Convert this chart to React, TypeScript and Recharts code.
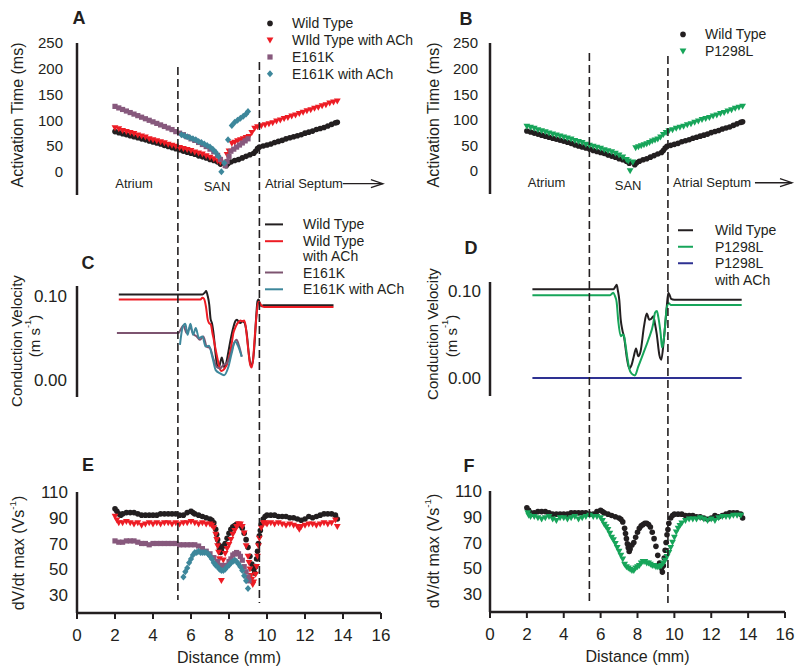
import React from 'react';
import {
  ScatterChart, Scatter, LineChart, Line, ComposedChart, XAxis, YAxis,
  ReferenceLine, ReferenceDot, Legend
} from 'recharts';

type Pt = [number, number];

const FONT = '"Liberation Sans", Arial, sans-serif';
const INK = '#231f20';
const RED = '#ed1c24';
const MAUVE = '#87597d';
const MAUVE_LINE = '#7d5470';
const TEAL = '#3d879b';
const GREEN = '#17a55a';
const NAVY = '#2e3192';

// axis ticks
const distanceTicks = [0, 2, 4, 6, 8, 10, 12, 14, 16];
const activationTicks = [0, 50, 100, 150, 200, 250];
const velocityTicks = [0, 0.1];
const dvdtTicks = [30, 50, 70, 90, 110];

// SAN region borders (mm)
const regionLeft = [5.31, 9.6];
const regionRight = [5.39, 9.65];

// ---- activation time (ms) vs distance (mm)
const atWildType: Pt[] = [
  [2.0, 78], [2.2, 76], [2.4, 74], [2.6, 72], [2.8, 70], [3.0, 68], [3.2, 66], [3.4, 64], [3.6, 62], [3.8, 60],
  [4.0, 58], [4.2, 56], [4.4, 54], [4.6, 51], [4.8, 49], [5.0, 47], [5.2, 45], [5.4, 43], [5.6, 40], [5.8, 38],
  [6.0, 36], [6.2, 34], [6.4, 31], [6.6, 29], [6.8, 27], [7.0, 24], [7.2, 22], [7.4, 19], [7.55, 15],
  [7.85, 12], [7.95, 16], [8.1, 19], [8.3, 22], [8.5, 24], [8.7, 27], [8.9, 30], [9.1, 33], [9.3, 36], [9.4, 40],
  [9.5, 45], [9.6, 48], [9.8, 50], [10.0, 52], [10.2, 54], [10.4, 57], [10.6, 59], [10.8, 61], [11.0, 64], [11.2, 66],
  [11.4, 68], [11.6, 70], [11.8, 72], [12.0, 75], [12.2, 77], [12.4, 79], [12.6, 82], [12.8, 84], [13.0, 86],
  [13.2, 89], [13.4, 92], [13.6, 95], [13.7, 96],
];
const atWildTypeACh: Pt[] = [
  [2.0, 85], [2.2, 83], [2.4, 80], [2.6, 78], [2.8, 76], [3.0, 74], [3.2, 71], [3.4, 69], [3.6, 67], [3.8, 64],
  [4.0, 62], [4.2, 60], [4.4, 58], [4.6, 56], [4.8, 53], [5.0, 51], [5.2, 49], [5.4, 47], [5.6, 45], [5.8, 43],
  [6.0, 41], [6.2, 38], [6.4, 36], [6.6, 34], [6.8, 31], [7.0, 28], [7.2, 25], [7.4, 21], [7.55, 18],
  [7.9, 33], [8.0, 40], [8.15, 55], [8.3, 57], [8.45, 60], [8.6, 62], [8.75, 64], [8.9, 66], [9.05, 68], [9.2, 76],
  [9.35, 84], [9.5, 87], [9.7, 89], [9.9, 91], [10.1, 93], [10.3, 95], [10.5, 98], [10.7, 100], [10.9, 103],
  [11.1, 105], [11.3, 108], [11.5, 110], [11.7, 113], [11.9, 115], [12.1, 118], [12.3, 120], [12.5, 123],
  [12.7, 125], [12.9, 128], [13.1, 130], [13.3, 133], [13.5, 135], [13.7, 137],
];
const atE161K: Pt[] = [
  [2.0, 127], [2.2, 124], [2.4, 121], [2.6, 118], [2.8, 115], [3.0, 112], [3.2, 109], [3.4, 106], [3.6, 103],
  [3.8, 100], [4.0, 97], [4.2, 94], [4.4, 91], [4.6, 88], [4.8, 85], [5.0, 82], [5.2, 78], [5.4, 75], [5.6, 72],
  [5.8, 68], [6.0, 64], [6.2, 61], [6.4, 57], [6.6, 53], [6.8, 49], [7.0, 44], [7.2, 39], [7.4, 32], [7.55, 24],
  [7.8, 12], [7.9, 20], [8.0, 30], [8.1, 40], [8.25, 44], [8.4, 48], [8.55, 52], [8.7, 56], [8.85, 60], [9.0, 64],
];
const atE161KACh: Pt[] = [
  [5.5, 72], [5.65, 70], [5.8, 68], [5.95, 66], [6.1, 64], [6.25, 62], [6.4, 59], [6.55, 57], [6.7, 54],
  [6.85, 51], [7.0, 48], [7.15, 44], [7.3, 38], [7.45, 30], [7.6, 0], [7.75, 17], [7.95, 62], [8.15, 90],
  [8.3, 96], [8.45, 100], [8.6, 104], [8.75, 108], [8.9, 112], [9.0, 117],
];
const atP1298L: Pt[] = [
  [2.0, 87], [2.2, 85], [2.4, 83], [2.6, 80], [2.8, 78], [3.0, 76], [3.2, 74], [3.4, 72], [3.6, 70], [3.8, 68],
  [4.0, 66], [4.2, 64], [4.4, 62], [4.6, 59], [4.8, 57], [5.0, 55], [5.2, 52], [5.4, 50], [5.6, 48], [5.8, 46],
  [6.0, 44], [6.2, 41], [6.4, 39], [6.6, 37], [6.8, 34], [7.0, 31], [7.2, 27], [7.4, 22], [7.5, 19], [7.6, 0],
  [7.75, 17], [7.9, 45], [8.05, 47], [8.2, 49], [8.35, 51], [8.5, 53], [8.65, 55], [8.8, 58], [8.95, 60],
  [9.1, 62], [9.25, 66], [9.4, 71], [9.55, 75], [9.7, 78], [9.9, 80], [10.1, 83], [10.3, 85], [10.5, 87],
  [10.7, 90], [10.9, 92], [11.1, 95], [11.3, 97], [11.5, 100], [11.7, 102], [11.9, 104], [12.1, 107],
  [12.3, 109], [12.5, 112], [12.7, 114], [12.9, 117], [13.1, 119], [13.3, 122], [13.5, 124], [13.7, 126],
];

// ---- conduction velocity (m/s)
const cvWildTypeC: Pt[] = [
  [2.2, 0.102], [6.6, 0.102], [6.72, 0.104], [6.8, 0.106], [6.88, 0.1], [6.96, 0.09], [7.03, 0.073], [7.1, 0.068],
  [7.2, 0.053], [7.3, 0.03], [7.38, 0.017], [7.47, 0.015], [7.55, 0.022], [7.62, 0.027], [7.7, 0.02], [7.76, 0.015],
  [7.85, 0.02], [7.97, 0.034], [8.1, 0.05], [8.23, 0.063], [8.33, 0.07], [8.42, 0.072], [8.52, 0.069], [8.6, 0.068],
  [8.7, 0.07], [8.8, 0.069], [8.93, 0.056], [9.05, 0.03], [9.15, 0.017], [9.25, 0.022], [9.35, 0.045], [9.43, 0.075],
  [9.5, 0.094], [9.56, 0.096], [9.62, 0.091], [9.7, 0.088], [9.8, 0.089], [13.5, 0.089],
];
const cvWildTypeAChC: Pt[] = [
  [2.2, 0.096], [6.5, 0.096], [6.6, 0.098], [6.68, 0.097], [6.79, 0.087], [6.88, 0.072], [6.95, 0.068], [7.05, 0.066],
  [7.12, 0.057], [7.2, 0.048], [7.3, 0.036], [7.4, 0.025], [7.5, 0.015], [7.6, 0.011], [7.7, 0.012], [7.8, 0.015],
  [7.88, 0.018], [7.97, 0.025], [8.05, 0.032], [8.15, 0.045], [8.23, 0.056], [8.32, 0.062], [8.4, 0.066], [8.5, 0.069],
  [8.6, 0.071], [8.7, 0.07], [8.8, 0.071], [8.88, 0.064], [8.95, 0.05], [9.02, 0.035], [9.1, 0.02], [9.19, 0.015],
  [9.27, 0.025], [9.35, 0.05], [9.42, 0.07], [9.5, 0.088], [9.55, 0.093], [9.62, 0.092], [9.7, 0.089], [9.85, 0.087],
  [13.5, 0.087],
];
const cvE161K: Pt[] = [
  [2.1, 0.056], [5.33, 0.056], [5.45, 0.06], [5.6, 0.065], [5.77, 0.056], [5.95, 0.063], [6.12, 0.055], [6.3, 0.052],
  [6.47, 0.048], [6.65, 0.052], [6.82, 0.04], [7.0, 0.038], [7.17, 0.026], [7.35, 0.016], [7.53, 0.014], [7.7, 0.018],
  [7.88, 0.02], [8.05, 0.028], [8.23, 0.042], [8.4, 0.048], [8.54, 0.04], [8.67, 0.028],
];
const cvE161KACh: Pt[] = [
  [5.42, 0.042], [5.56, 0.063], [5.7, 0.067], [5.82, 0.054], [5.97, 0.067], [6.11, 0.054], [6.25, 0.062], [6.42, 0.05],
  [6.6, 0.052], [6.77, 0.04], [6.95, 0.041], [7.12, 0.028], [7.3, 0.012], [7.53, 0.008], [7.74, 0.006], [7.97, 0.016],
  [8.14, 0.032], [8.32, 0.046], [8.49, 0.04], [8.67, 0.028],
];
const cvWildTypeD: Pt[] = [
  [2.3, 0.102], [6.7, 0.102], [6.8, 0.105], [6.87, 0.107], [6.94, 0.1], [7.01, 0.09], [7.09, 0.067], [7.18, 0.055],
  [7.28, 0.046], [7.41, 0.025], [7.55, 0.011], [7.68, 0.015], [7.8, 0.025], [7.92, 0.034], [8.04, 0.025], [8.17, 0.031],
  [8.35, 0.059], [8.5, 0.074], [8.64, 0.067], [8.75, 0.068], [8.86, 0.071], [8.95, 0.062], [9.04, 0.051], [9.19, 0.026],
  [9.29, 0.021], [9.44, 0.047], [9.58, 0.08], [9.67, 0.098], [9.75, 0.095], [9.82, 0.091], [10.0, 0.09], [13.65, 0.09],
];
const cvP1298L: Pt[] = [
  [2.3, 0.095], [6.5, 0.095], [6.62, 0.097], [6.69, 0.098], [6.78, 0.094], [6.87, 0.087], [6.96, 0.065], [7.09, 0.048],
  [7.2, 0.05], [7.27, 0.048], [7.35, 0.038], [7.45, 0.023], [7.55, 0.011], [7.68, 0.005], [7.86, 0.003], [8.04, 0.013],
  [8.31, 0.028], [8.59, 0.044], [8.86, 0.063], [8.95, 0.075], [9.05, 0.077], [9.13, 0.07], [9.26, 0.05], [9.33, 0.035],
  [9.4, 0.04], [9.49, 0.058], [9.58, 0.08], [9.7, 0.086], [9.8, 0.084], [13.65, 0.084],
];
const cvP1298LACh: Pt[] = [[2.3, 0], [13.65, 0]];

// ---- dV/dt max (V/s)
const dvWildType: Pt[] = [
  [2.0, 97], [2.1, 95], [2.2, 93], [2.3, 92], [2.4, 93], [2.6, 94], [2.8, 94], [3.0, 94], [3.2, 93], [3.4, 92],
  [3.6, 92], [3.8, 92], [4.0, 92], [4.2, 92], [4.4, 93], [4.6, 93], [4.8, 93], [5.0, 93], [5.2, 93], [5.4, 92],
  [5.6, 92], [5.8, 94], [6.0, 95], [6.1, 94], [6.2, 93], [6.4, 92], [6.6, 91], [6.8, 90], [7.0, 89], [7.1, 88],
  [7.2, 86], [7.3, 81], [7.35, 77], [7.4, 73], [7.45, 69], [7.5, 66], [7.55, 63], [7.6, 65], [7.7, 68], [7.8, 70],
  [7.9, 74], [8.0, 78], [8.1, 81], [8.2, 83], [8.3, 84], [8.4, 85], [8.5, 85], [8.6, 84], [8.7, 82], [8.8, 78],
  [8.9, 73], [9.0, 67], [9.1, 60], [9.2, 54], [9.3, 50], [9.35, 47], [9.4, 52], [9.45, 58], [9.5, 64], [9.55, 70],
  [9.6, 76], [9.65, 80], [9.7, 85], [9.8, 89], [9.9, 91], [10.0, 92], [10.2, 92], [10.4, 92], [10.6, 91], [10.8, 91],
  [11.0, 91], [11.2, 90], [11.4, 90], [11.6, 89], [11.8, 88], [12.0, 89], [12.2, 91], [12.4, 90], [12.6, 91],
  [12.8, 92], [13.0, 93], [13.2, 93], [13.4, 93], [13.6, 92], [13.7, 89],
];
const dvWildTypeACh: Pt[] = [
  [2.0, 91], [2.1, 88], [2.2, 86], [2.4, 86], [2.6, 87], [2.8, 86], [3.0, 85], [3.2, 86], [3.4, 84], [3.6, 85],
  [3.8, 86], [4.0, 85], [4.2, 86], [4.4, 85], [4.6, 86], [4.8, 86], [5.0, 85], [5.2, 86], [5.4, 85], [5.6, 86],
  [5.8, 86], [6.0, 87], [6.2, 86], [6.4, 85], [6.6, 86], [6.8, 85], [7.0, 85], [7.1, 84], [7.2, 82], [7.3, 77],
  [7.35, 73], [7.4, 68], [7.45, 63], [7.5, 58], [7.55, 52], [7.6, 41], [7.7, 57], [7.8, 62], [7.9, 66], [8.0, 69],
  [8.1, 73], [8.2, 77], [8.3, 80], [8.4, 83], [8.5, 85], [8.6, 85], [8.7, 83], [8.8, 78], [8.9, 68], [9.0, 60],
  [9.05, 55], [9.1, 50], [9.15, 45], [9.2, 42], [9.25, 38], [9.3, 40], [9.4, 46], [9.45, 52], [9.5, 60], [9.55, 68],
  [9.6, 74], [9.7, 82], [9.8, 86], [9.9, 86], [10.0, 85], [10.2, 86], [10.4, 85], [10.6, 86], [10.8, 85], [11.0, 84],
  [11.2, 85], [11.4, 84], [11.6, 83], [11.7, 81], [11.8, 83], [12.0, 84], [12.2, 85], [12.4, 85], [12.6, 84],
  [12.8, 85], [13.0, 86], [13.2, 85], [13.4, 86], [13.6, 88], [13.7, 83],
];
const dvE161K: Pt[] = [
  [2.0, 72], [2.2, 71], [2.4, 71], [2.6, 72], [2.8, 72], [3.0, 72], [3.2, 71], [3.4, 70], [3.6, 70], [3.8, 69],
  [4.0, 70], [4.2, 70], [4.4, 70], [4.6, 70], [4.8, 70], [5.0, 70], [5.2, 70], [5.4, 69], [5.6, 69], [5.8, 69],
  [6.0, 69], [6.2, 69], [6.4, 68], [6.6, 66], [6.8, 64], [7.0, 62], [7.2, 59], [7.4, 56], [7.6, 53], [7.8, 53],
  [8.0, 56], [8.1, 58], [8.2, 61], [8.3, 62], [8.4, 63], [8.5, 62], [8.6, 60], [8.7, 57], [8.8, 52], [8.9, 48],
  [9.0, 44], [9.05, 41],
];
const dvE161KACh: Pt[] = [
  [5.6, 44], [5.7, 48], [5.8, 51], [5.9, 55], [6.0, 58], [6.1, 61], [6.2, 63], [6.3, 63], [6.4, 64], [6.5, 63],
  [6.6, 63], [6.7, 63], [6.8, 63], [6.9, 62], [7.0, 60], [7.1, 58], [7.2, 55], [7.3, 53], [7.4, 52], [7.5, 50],
  [7.6, 49], [7.7, 49], [7.8, 50], [7.9, 52], [8.0, 53], [8.1, 55], [8.2, 56], [8.3, 57], [8.4, 56], [8.5, 54],
  [8.6, 52], [8.7, 49], [8.8, 45], [8.9, 41], [9.0, 35],
];
const dvP1298L: Pt[] = [
  [2.05, 93], [2.1, 91], [2.2, 90], [2.4, 90], [2.6, 89], [2.8, 88], [3.0, 89], [3.2, 90], [3.4, 88], [3.6, 87],
  [3.8, 89], [4.0, 89], [4.2, 88], [4.4, 89], [4.6, 90], [4.8, 88], [5.0, 89], [5.2, 90], [5.4, 91], [5.6, 90],
  [5.8, 90], [6.0, 89], [6.1, 87], [6.2, 84], [6.3, 82], [6.4, 80], [6.5, 77], [6.6, 74], [6.7, 72], [6.8, 69],
  [6.9, 66], [7.0, 63], [7.1, 60], [7.2, 57], [7.3, 53], [7.4, 51], [7.5, 50], [7.6, 49], [7.7, 48], [7.8, 48],
  [7.9, 50], [8.0, 51], [8.1, 52], [8.2, 54], [8.3, 55], [8.4, 55], [8.5, 54], [8.6, 54], [8.7, 53], [8.8, 52],
  [8.9, 52], [9.0, 51], [9.1, 51], [9.2, 51], [9.3, 52], [9.4, 54], [9.5, 56], [9.6, 59], [9.7, 62], [9.8, 66],
  [9.9, 70], [10.0, 74], [10.1, 78], [10.2, 81], [10.3, 83], [10.4, 85], [10.6, 87], [10.8, 88], [11.0, 88],
  [11.2, 88], [11.4, 89], [11.6, 88], [11.8, 87], [12.0, 88], [12.2, 87], [12.4, 89], [12.6, 90], [12.8, 90],
  [13.0, 90], [13.2, 91], [13.4, 91], [13.6, 91],
];

const pts = (a: Pt[]) => a.map(([x, y]) => ({ x, y }));

type Shape = 'circle' | 'tri' | 'square' | 'diamond';

const mark = (shape: Shape, cx: number, cy: number, color: string) => {
  switch (shape) {
    case 'circle':
      return <circle cx={cx} cy={cy} r={2.8} fill={color} />;
    case 'tri':
      return <path d={`M${cx - 3.4},${cy - 2.7}L${cx + 3.4},${cy - 2.7}L${cx},${cy + 3.3}Z`} fill={color} />;
    case 'square':
      return <rect x={cx - 2.6} y={cy - 2.6} width={5.2} height={5.2} fill={color} />;
    default:
      return <path d={`M${cx},${cy - 3.5}L${cx + 3.1},${cy}L${cx},${cy + 3.5}L${cx - 3.1},${cy}Z`} fill={color} />;
  }
};
const shapeOf = (shape: Shape, color: string) => (p: any) => mark(shape, p.cx, p.cy, color);

const legendA = [
  { label: 'Wild Type', color: INK, shape: 'circle' as Shape },
  { label: 'WIld Type with ACh', color: RED, shape: 'tri' as Shape },
  { label: 'E161K', color: MAUVE, shape: 'square' as Shape },
  { label: 'E161K with ACh', color: TEAL, shape: 'diamond' as Shape },
];
const legendB = [
  { label: 'Wild Type', color: INK, shape: 'circle' as Shape },
  { label: 'P1298L', color: GREEN, shape: 'tri' as Shape },
];
const legendC = [
  { lines: ['Wild Type'], color: INK },
  { lines: ['Wild Type', 'with ACh'], color: RED },
  { lines: ['E161K'], color: MAUVE_LINE },
  { lines: ['E161K with ACh'], color: TEAL },
];
const legendD = [
  { lines: ['Wild Type'], color: INK },
  { lines: ['P1298L'], color: GREEN },
  { lines: ['P1298L', 'with ACh'], color: NAVY },
];

const ScatterKey = ({ items, pitch }: { items: typeof legendA; pitch: number }) => (
  <svg width={170} height={items.length * pitch} style={{ overflow: 'visible', display: 'block' }}>
    {items.map((it, i) => {
      const cy = pitch * i + pitch / 2;
      return (
        <g key={it.label}>
          {mark(it.shape, 6, cy, it.color)}
          <text x={28} y={cy} dominantBaseline="central" fontSize={14} fill={INK} fontFamily={FONT}>{it.label}</text>
        </g>
      );
    })}
  </svg>
);

const LineKey = ({ items, pitch, inner, len, textX }: { items: typeof legendC; pitch: number; inner: number; len: number; textX: number }) => {
  let y = pitch / 2;
  const rows = items.map((it) => {
    const row = { ...it, y };
    y += pitch + (it.lines.length - 1) * inner;
    return row;
  });
  return (
    <svg width={150} height={y} style={{ overflow: 'visible', display: 'block' }}>
      {rows.map((r) => (
        <g key={r.lines.join(' ') + r.color}>
          <line x1={0} x2={len} y1={r.y} y2={r.y} stroke={r.color} strokeWidth={2} />
          {r.lines.map((t, k) => (
            <text key={t} x={textX} y={r.y + k * inner} dominantBaseline="central" fontSize={14} fill={INK} fontFamily={FONT}>{t}</text>
          ))}
        </g>
      ))}
    </svg>
  );
};

type TitleLine = { x: number; y: number; text: string; sup?: string; tail?: string };
const AxisTitle = ({ lines, size = 16 }: { lines: TitleLine[]; size?: number }) => (
  <g>
    {lines.map((l, i) => (
      <text key={i} x={l.x} y={l.y} transform={`rotate(-90 ${l.x} ${l.y})`} textAnchor="middle"
        dominantBaseline="central" fontSize={size} fill={INK} fontFamily={FONT}>
        {l.text}
        {l.sup && <tspan dy={-6} fontSize={size * 0.62}>{l.sup}</tspan>}
        {l.tail && <tspan dy={l.sup ? 6 : 0}>{l.tail}</tspan>}
      </text>
    ))}
  </g>
);

const ArrowShape = (p: any) => (
  <g>
    <line x1={p.x1} y1={p.y1} x2={p.x2} y2={p.y2} stroke={INK} strokeWidth={1.3} />
    <path d={`M${p.x2 - 12},${p.y2 - 4}L${p.x2},${p.y2}L${p.x2 - 12},${p.y2 + 4}`} fill="none" stroke={INK} strokeWidth={1.3} />
  </g>
);

const tickStyle = (size: number) => ({ fill: INK, fontSize: size, fontFamily: FONT });
const axisLine = { stroke: INK, strokeWidth: 2.5 };
const noteLabel = (value: string, position: any) => ({ value, position, offset: 0, fill: INK, fontSize: 13, fontFamily: FONT });

const ActivationPanel = ({ series, legend, legendPos, titleX, margin, axisW, tickGap, notes }: any) => (
  <ScatterChart width={400} height={200} margin={margin}>
    <XAxis type="number" dataKey="x" domain={[0, 16]} hide />
    <YAxis type="number" dataKey="y" domain={[-45, 250]} ticks={activationTicks} width={axisW}
      axisLine={axisLine} tickLine={false} tickSize={0} tickMargin={tickGap} tick={tickStyle(15)}
      label={() => <AxisTitle lines={[{ x: titleX, y: 115, text: 'Activation Time (ms)' }]} />} />
    {series.map((s: any) => (
      <Scatter key={s.name} name={s.name} data={pts(s.data)} shape={shapeOf(s.shape, s.color)} isAnimationActive={false} />
    ))}
    <ReferenceDot x={notes[0]} y={-23} r={0} stroke="none" fill="none" label={noteLabel('Atrium', 'center')} />
    <ReferenceDot x={notes[1]} y={-29} r={0} stroke="none" fill="none" label={noteLabel('SAN', 'center')} />
    <ReferenceDot x={notes[2]} y={-23} r={0} stroke="none" fill="none" label={noteLabel('Atrial Septum', 'right')} />
    <ReferenceLine segment={[{ x: notes[3], y: -23 }, { x: notes[4], y: -23 }]} ifOverflow="visible" shape={ArrowShape} />
    <Legend layout="vertical" align="center" verticalAlign="middle"
      wrapperStyle={{ left: legendPos[0], top: legendPos[1], width: 'auto', height: 'auto' }}
      content={() => <ScatterKey items={legend} pitch={16.8} />} />
  </ScatterChart>
);

const VelocityPanel = ({ series, legend, legendPos, legendGeom, titles, margin, axisW, tickGap, domain }: any) => (
  <LineChart width={400} height={220} margin={margin}>
    <XAxis type="number" dataKey="x" domain={[0, 16]} hide />
    <YAxis type="number" dataKey="y" domain={domain} ticks={velocityTicks} width={axisW}
      axisLine={axisLine} tickLine={false} tickSize={0} tickMargin={tickGap} tick={tickStyle(17)}
      tickFormatter={(v: number) => v.toFixed(2)}
      label={() => <AxisTitle size={15} lines={titles} />} />
    {series.map((s: any) => (
      <Line key={s.name} name={s.name} data={pts(s.data)} dataKey="y" type="monotone" stroke={s.color}
        strokeWidth={2} dot={false} isAnimationActive={false} />
    ))}
    <Legend layout="vertical" align="center" verticalAlign="middle"
      wrapperStyle={{ left: legendPos[0], top: legendPos[1], width: 'auto', height: 'auto' }}
      content={() => <LineKey items={legend} {...legendGeom} />} />
  </LineChart>
);

const DvdtPanel = ({ series, titleX, titleY, margin, axisW, tickGap }: any) => (
  <ScatterChart width={400} height={251} margin={margin}>
    <XAxis type="number" dataKey="x" domain={[0, 16]} ticks={distanceTicks} height={50}
      axisLine={axisLine} tickLine={{ stroke: INK, strokeWidth: 2 }} tickSize={6} tickMargin={10} tick={tickStyle(17)}
      label={{ value: 'Distance (mm)', position: 'insideBottom', offset: 0, fill: INK, fontSize: 16, fontFamily: FONT }} />
    <YAxis type="number" dataKey="y" domain={[16, 110]} ticks={dvdtTicks} width={axisW}
      axisLine={axisLine} tickLine={false} tickSize={0} tickMargin={tickGap} tick={tickStyle(17)}
      label={() => <AxisTitle lines={[{ x: titleX, y: titleY, text: 'dV/dt max (Vs', sup: '-1', tail: ')' }]} />} />
    {series.map((s: any) => (
      <Scatter key={s.name} name={s.name} data={pts(s.data)} shape={shapeOf(s.shape, s.color)} isAnimationActive={false} />
    ))}
  </ScatterChart>
);

// full-height layer for the dashed SAN borders; the y axis is in page pixels
const RegionOverlay = ({ lines, spans, left, right }: any) => {
  const ends = lines.flatMap((x: number, i: number) => [{ x, y: spans[i][0] }, { x, y: spans[i][1] }]);
  return (
    <ComposedChart width={400} height={671} margin={{ top: 0, right, bottom: 0, left }} data={ends}>
      <XAxis type="number" dataKey="x" domain={[0, 16]} allowDataOverflow hide />
      <YAxis type="number" dataKey="y" domain={[0, 671]} allowDataOverflow reversed hide />
      {lines.map((x: number, i: number) => (
        <ReferenceLine key={i} segment={[{ x, y: spans[i][0] }, { x, y: spans[i][1] }]} ifOverflow="visible"
          stroke={INK} strokeWidth={1.6} strokeDasharray="8 4" />
      ))}
    </ComposedChart>
  );
};

const panelLetters = [
  { t: 'A', x: 79, y: 18 }, { t: 'B', x: 466, y: 19 },
  { t: 'C', x: 88, y: 263 }, { t: 'D', x: 471, y: 248 },
  { t: 'E', x: 88, y: 465 }, { t: 'F', x: 469, y: 466 },
];

const at = (left: number, top: number, child: React.ReactNode) => (
  <div style={{ position: 'absolute', left, top }}>{child}</div>
);

export default function App() {
  return (
    <div style={{ position: 'absolute', left: 0, top: 0, width: 800, height: 671, background: '#fff', fontFamily: FONT, overflow: 'hidden' }}>
      {at(0, 0, (
        <ActivationPanel
          margin={{ top: 43, right: 19, bottom: 5, left: 0 }} axisW={77} tickGap={14} titleX={17}
          legend={legendA} legendPos={[264, 15]} notes={[3.0, 7.37, 9.89, 13.99, 16.1]}
          series={[
            { name: 'Wild Type', data: atWildType, shape: 'circle', color: INK },
            { name: 'WIld Type with ACh', data: atWildTypeACh, shape: 'tri', color: RED },
            { name: 'E161K', data: atE161K, shape: 'square', color: MAUVE },
            { name: 'E161K with ACh', data: atE161KACh, shape: 'diamond', color: TEAL },
          ]} />
      ))}
      {at(400, 0, (
        <ActivationPanel
          margin={{ top: 43, right: 15, bottom: 6, left: 0 }} axisW={90} tickGap={12} titleX={33}
          legend={legendB} legendPos={[277, 25.6]} notes={[3.07, 7.49, 9.93, 14.37, 16.38]}
          series={[
            { name: 'Wild Type', data: atWildType, shape: 'circle', color: INK },
            { name: 'P1298L', data: atP1298L, shape: 'tri', color: GREEN },
          ]} />
      ))}
      {at(0, 200, (
        <VelocityPanel
          margin={{ top: 86, right: 19, bottom: 23, left: 0 }} axisW={77} tickGap={10} domain={[-0.02, 0.112]}
          titles={[{ x: 16, y: 141, text: 'Conduction Velocity' }, { x: 34, y: 136, text: '(m s', sup: '-1', tail: ')' }]}
          legend={legendC} legendPos={[265, 15.6]} legendGeom={{ pitch: 16.8, inner: 14.5, len: 18, textX: 38 }}
          series={[
            { name: 'Wild Type', data: cvWildTypeC, color: INK },
            { name: 'Wild Type with ACh', data: cvWildTypeAChC, color: RED },
            { name: 'E161K', data: cvE161K, color: MAUVE_LINE },
            { name: 'E161K with ACh', data: cvE161KACh, color: TEAL },
          ]} />
      ))}
      {at(400, 200, (
        <VelocityPanel
          margin={{ top: 82, right: 15, bottom: 24, left: 0 }} axisW={90} tickGap={9} domain={[-0.0207, 0.1103]}
          titles={[{ x: 32, y: 134, text: 'Conduction Velocity' }, { x: 51, y: 136, text: '(m s', sup: '-1', tail: ')' }]}
          legend={legendD} legendPos={[278, 21.75]} legendGeom={{ pitch: 16.5, inner: 16.3, len: 15, textX: 37 }}
          series={[
            { name: 'Wild Type', data: cvWildTypeD, color: INK },
            { name: 'P1298L', data: cvP1298L, color: GREEN },
            { name: 'P1298L with ACh', data: cvP1298LACh, color: NAVY },
          ]} />
      ))}
      {at(0, 420, (
        <DvdtPanel
          margin={{ top: 72, right: 19, bottom: 8, left: 0 }} axisW={77} tickGap={9} titleX={18} titleY={133}
          series={[
            { name: 'Wild Type', data: dvWildType, shape: 'circle', color: INK },
            { name: 'Wild Type with ACh', data: dvWildTypeACh, shape: 'tri', color: RED },
            { name: 'E161K', data: dvE161K, shape: 'square', color: MAUVE },
            { name: 'E161K with ACh', data: dvE161KACh, shape: 'diamond', color: TEAL },
          ]} />
      ))}
      {at(400, 420, (
        <DvdtPanel
          margin={{ top: 71, right: 15, bottom: 9, left: 0 }} axisW={90} tickGap={8} titleX={33} titleY={131}
          series={[
            { name: 'Wild Type', data: dvWildType, shape: 'circle', color: INK },
            { name: 'P1298L', data: dvP1298L, shape: 'tri', color: GREEN },
          ]} />
      ))}
      <div style={{ position: 'absolute', left: 0, top: 0, pointerEvents: 'none' }}>
        <RegionOverlay lines={regionLeft} spans={[[67, 600], [62, 603]]} left={77} right={19} />
      </div>
      <div style={{ position: 'absolute', left: 400, top: 0, pointerEvents: 'none' }}>
        <RegionOverlay lines={regionRight} spans={[[53, 602], [56, 603]]} left={90} right={15} />
      </div>
      {panelLetters.map((p) => (
        <div key={p.t} style={{
          position: 'absolute', left: p.x - 12, top: p.y - 12, width: 24, height: 24, lineHeight: '24px',
          textAlign: 'center', fontWeight: 'bold', fontSize: 18, color: INK, fontFamily: FONT,
        }}>{p.t}</div>
      ))}
    </div>
  );
}
